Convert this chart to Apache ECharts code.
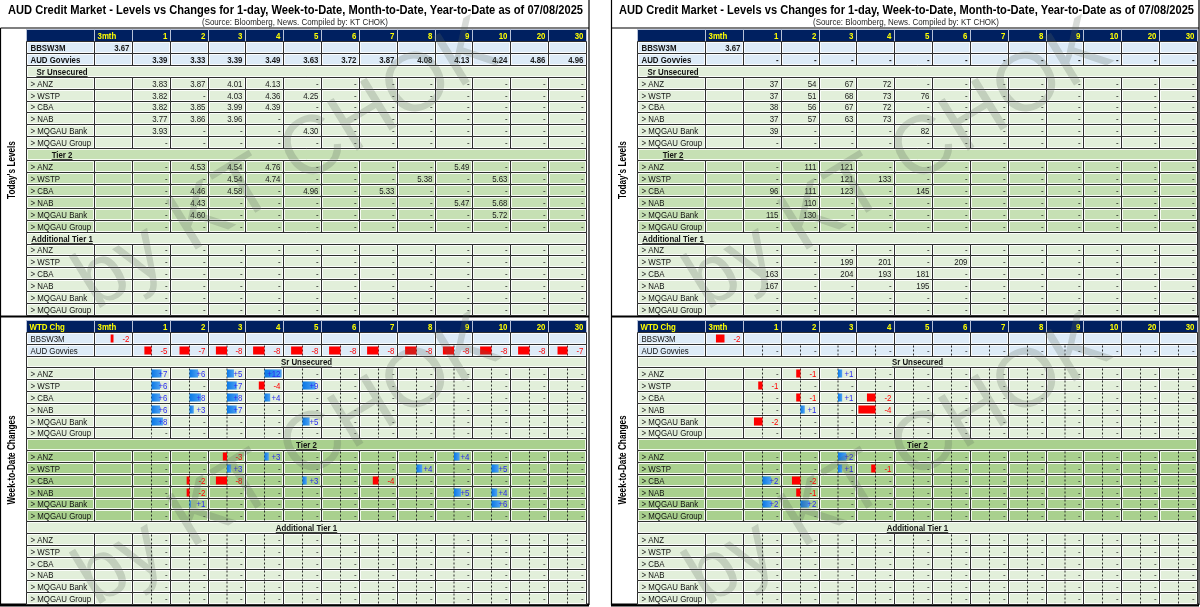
<!DOCTYPE html>
<html><head><meta charset="utf-8">
<script src="https://cdn.jsdelivr.net/npm/echarts@6/dist/echarts.min.js"></script>
<style>html,body{margin:0;padding:0;background:#fff}#c{width:1200px;height:607px}</style>
</head><body><div id="c"></div>
<script>
// ---------------- DATA ----------------
const B = '';    // blank cell
const D = null;  // dash "-"
const columns = ['3mth','1','2','3','4','5','6','7','8','9','10','20','30'];
const rateLabels = ['BBSW3M','AUD Govvies'];
const sections = ['Sr Unsecured','Tier 2','Additional Tier 1'];
const issuers = ['> ANZ','> WSTP','> CBA','> NAB','> MQGAU Bank','> MQGAU Group'];

// Today's levels - yields (%)
const yldRates = [
  [3.67,B,B,B,B,B,B,B,B,B,B,B,B],
  [B,3.39,3.33,3.39,3.49,3.63,3.72,3.87,4.08,4.13,4.24,4.86,4.96]
];
const yldSrUnsecured = [
  [B,3.83,3.87,4.01,4.13,D,D,D,D,D,D,D,D],
  [B,3.82,D,4.03,4.36,4.25,D,D,D,D,D,D,D],
  [B,3.82,3.85,3.99,4.39,D,D,D,D,D,D,D,D],
  [B,3.77,3.86,3.96,D,D,D,D,D,D,D,D,D],
  [B,3.93,D,D,D,4.30,D,D,D,D,D,D,D],
  [B,D,D,D,D,D,D,D,D,D,D,D,D]
];
const yldTier2 = [
  [B,D,4.53,4.54,4.76,D,D,D,D,5.49,D,D,D],
  [B,D,D,4.54,4.74,D,D,D,5.38,D,5.63,D,D],
  [B,D,4.46,4.58,D,4.96,D,5.33,D,D,D,D,D],
  [B,D,4.43,D,D,D,D,D,D,5.47,5.68,D,D],
  [B,D,4.60,D,D,D,D,D,D,D,5.72,D,D],
  [B,D,D,D,D,D,D,D,D,D,D,D,D]
];
const yldAT1 = [
  [B,D,D,D,D,D,D,D,D,D,D,D,D],
  [B,D,D,D,D,D,D,D,D,D,D,D,D],
  [B,D,D,D,D,D,D,D,D,D,D,D,D],
  [B,D,D,D,D,D,D,D,D,D,D,D,D],
  [B,D,D,D,D,D,D,D,D,D,D,D,D],
  [B,D,D,D,D,D,D,D,D,D,D,D,D]
];

// Today's levels - spreads (bp)
const sprRates = [
  [3.67,B,B,B,B,B,B,B,B,B,B,B,B],
  [B,D,D,D,D,D,D,D,D,D,D,D,D]
];
const sprSrUnsecured = [
  [B,37,54,67,72,D,D,D,D,D,D,D,D],
  [B,37,51,68,73,76,D,D,D,D,D,D,D],
  [B,38,56,67,72,D,D,D,D,D,D,D,D],
  [B,37,57,63,73,D,D,D,D,D,D,D,D],
  [B,39,D,D,D,82,D,D,D,D,D,D,D],
  [B,D,D,D,D,D,D,D,D,D,D,D,D]
];
const sprTier2 = [
  [B,D,111,121,D,D,D,D,D,D,D,D,D],
  [B,D,D,121,133,D,D,D,D,D,D,D,D],
  [B,96,111,123,D,145,D,D,D,D,D,D,D],
  [B,D,110,D,D,D,D,D,D,D,D,D,D],
  [B,115,130,D,D,D,D,D,D,D,D,D,D],
  [B,D,D,D,D,D,D,D,D,D,D,D,D]
];
const sprAT1 = [
  [B,D,D,D,D,D,D,D,D,D,D,D,D],
  [B,D,D,199,201,D,209,D,D,D,D,D,D],
  [B,163,D,204,193,181,D,D,D,D,D,D,D],
  [B,167,D,D,D,195,D,D,D,D,D,D,D],
  [B,D,D,D,D,D,D,D,D,D,D,D,D],
  [B,D,D,D,D,D,D,D,D,D,D,D,D]
];

// Week-to-date changes - yields (bp)
const yldChgRates = [
  [-2,B,B,B,B,B,B,B,B,B,B,B,B],
  [B,-5,-7,-8,-8,-8,-8,-8,-8,-8,-8,-8,-7]
];
const yldChgSrUnsecured = [
  [B,7,6,5,12,D,D,D,D,D,D,D,D],
  [B,6,D,7,-4,9,D,D,D,D,D,D,D],
  [B,6,8,8,4,D,D,D,D,D,D,D,D],
  [B,6,3,7,D,D,D,D,D,D,D,D,D],
  [B,8,D,D,D,5,D,D,D,D,D,D,D],
  [B,D,D,D,D,D,D,D,D,D,D,D,D]
];
const yldChgTier2 = [
  [B,D,D,-3,3,D,D,D,D,4,D,D,D],
  [B,D,D,3,D,D,D,D,4,D,5,D,D],
  [B,D,-2,-8,D,3,D,-4,D,D,D,D,D],
  [B,D,-2,D,D,D,D,D,D,5,4,D,D],
  [B,D,1,D,D,D,D,D,D,D,6,D,D],
  [B,D,D,D,D,D,D,D,D,D,D,D,D]
];
const yldChgAT1 = [
  [B,D,D,D,D,D,D,D,D,D,D,D,D],
  [B,D,D,D,D,D,D,D,D,D,D,D,D],
  [B,D,D,D,D,D,D,D,D,D,D,D,D],
  [B,D,D,D,D,D,D,D,D,D,D,D,D],
  [B,D,D,D,D,D,D,D,D,D,D,D,D],
  [B,D,D,D,D,D,D,D,D,D,D,D,D]
];

// Week-to-date changes - spreads (bp)
const sprChgRates = [
  [-2,B,B,B,B,B,B,B,B,B,B,B,B],
  [B,D,D,D,D,D,D,D,D,D,D,D,D]
];
const sprChgSrUnsecured = [
  [B,D,-1,1,D,D,D,D,D,D,D,D,D],
  [B,-1,D,D,D,D,D,D,D,D,D,D,D],
  [B,D,-1,1,-2,D,D,D,D,D,D,D,D],
  [B,D,1,D,-4,D,D,D,D,D,D,D,D],
  [B,-2,D,D,D,D,D,D,D,D,D,D,D],
  [B,D,D,D,D,D,D,D,D,D,D,D,D]
];
const sprChgTier2 = [
  [B,D,D,2,D,D,D,D,D,D,D,D,D],
  [B,D,D,1,-1,D,D,D,D,D,D,D,D],
  [B,2,-2,D,D,D,D,D,D,D,D,D,D],
  [B,D,-1,D,D,D,D,D,D,D,D,D,D],
  [B,2,2,D,D,D,D,D,D,D,D,D,D],
  [B,D,D,D,D,D,D,D,D,D,D,D,D]
];
const sprChgAT1 = [
  [B,D,D,D,D,D,D,D,D,D,D,D,D],
  [B,D,D,D,D,D,D,D,D,D,D,D,D],
  [B,D,D,D,D,D,D,D,D,D,D,D,D],
  [B,D,D,D,D,D,D,D,D,D,D,D,D],
  [B,D,D,D,D,D,D,D,D,D,D,D,D],
  [B,D,D,D,D,D,D,D,D,D,D,D,D]
];

const titleText = 'AUD Credit Market - Levels vs Changes for 1-day, Week-to-Date, Month-to-Date, Year-to-Date as of 07/08/2025';
const sourceText = '(Source: Bloomberg, News. Compiled by: KT CHOK)';
const watermarkText = 'by KT CHOK';

// ---------------- LAYOUT / STYLE ----------------
const FONT = "'Liberation Sans',Arial,sans-serif";
const FS = 9.6;
const SX = 0.82;      // horizontal condense factor (Calibri-like)
const LW = 1.8;       // label column width in column units
const NCOLS = columns.length;
const SEC_TOP = ['#E2EFDA','#C6E0B4','#E2EFDA'];
const SEC_BOT = ['#E2EFDA','#A9D08E','#E2EFDA'];
const RATE_FILL = '#DDEBF7';
const HDR_FILL = '#002060';

const mctx = document.createElement('canvas').getContext('2d');
function tw(text, size, weight) {
  mctx.font = (weight || 'normal') + ' ' + size + 'px ' + FONT;
  return mctx.measureText(text).width;
}

function buildItems(rates, secData, mode) {
  const items = [];
  const colX = j => LW + j;
  items.push({kind:'hdrLabel', x0:0, x1:LW, row:0, text: mode === 'chg' ? 'WTD Chg' : ''});
  columns.forEach((c, j) => items.push({kind:'hdr', x0:colX(j), x1:colX(j)+1, row:0, text:c, col:j}));
  let r = 1;
  rateLabels.forEach((lab, i) => {
    items.push({kind:'label', x0:0, x1:LW, row:r, text:lab, bold: mode === 'level', fill: RATE_FILL});
    rates[i].forEach((v, j) => items.push({kind:'val', x0:colX(j), x1:colX(j)+1, row:r, v:v, col:j, bold: mode === 'level', fill: RATE_FILL}));
    r++;
  });
  sections.forEach((s, k) => {
    const fill = (mode === 'level' ? SEC_TOP : SEC_BOT)[k];
    items.push({kind:'section', x0:0, x1:LW + NCOLS, row:r, text:s, fill:fill});
    r++;
    issuers.forEach((lab, i) => {
      items.push({kind:'label', x0:0, x1:LW, row:r, text:lab, fill:fill});
      secData[k][i].forEach((v, j) => items.push({kind:'val', x0:colX(j), x1:colX(j)+1, row:r, v:v, col:j, fill:fill}));
      r++;
    });
  });
  return items;
}

function fmtLevel(v) { return Number.isInteger(v) ? String(v) : v.toFixed(2); }

function makeRender(items, mode, maxAbs) {
  return function (params, api) {
    const it = items[params.dataIndex];
    const a = api.coord([it.x0, it.row]);
    const b = api.coord([it.x1, it.row + 1]);
    const x = Math.round(a[0]) + 0.5, y = Math.round(a[1]) + 0.5;
    const w = Math.round(b[0]) - Math.round(a[0]);
    const h = Math.round(b[1]) - Math.round(a[1]);
    const cy = y + h / 2;
    const ch = [];
    const isHdr = it.kind === 'hdr' || it.kind === 'hdrLabel';
    ch.push({type:'rect', shape:{x:x, y:y, width:w, height:h},
      style:{fill: isHdr ? HDR_FILL : it.fill, stroke: isHdr ? '#b8c2d8' : '#2e2e2e', lineWidth:1}});
    if (!isHdr) {
      ch.push({type:'rect', shape:{x:x+1, y:y+1, width:w-2, height:h-2},
        style:{fill:'none', stroke:'#ffffff', lineWidth:1, opacity:0.85}});
    }
    const txt = (text, tx, align, color, weight) => ch.push({type:'text', x:tx, y:cy + 0.5, scaleX:SX, style:{
      text:text, x:0, y:0, align:align, verticalAlign:'middle', fill:color,
      fontSize:FS, fontWeight:weight || 'normal', fontFamily:FONT}});
    if (it.kind === 'hdrLabel') {
      if (it.text) txt(it.text, x + 3, 'left', '#FFFF00', 'bold');
    } else if (it.kind === 'hdr') {
      if (it.col === 0) txt(it.text, x + 3, 'left', '#FFFF00', 'bold');
      else txt(it.text, x + w - 3, 'right', '#FFFF00', 'bold');
    } else if (it.kind === 'label') {
      txt(it.text, x + 4, 'left', '#111', it.bold ? 'bold' : 'normal');
    } else if (it.kind === 'section') {
      let cx;
      if (mode === 'level') {
        const c0 = api.coord([0, it.row]), c1 = api.coord([LW, it.row]);
        cx = (c0[0] + c1[0]) / 2 + 2;
      } else {
        cx = x + w / 2;
      }
      txt(it.text, cx, 'center', '#111', 'bold');
      const tW = tw(it.text, FS, 'bold') * SX;
      ch.push({type:'line', shape:{x1:cx - tW/2, y1:cy + 5, x2:cx + tW/2, y2:cy + 5},
        style:{stroke:'#111', lineWidth:0.8}});
    } else if (it.kind === 'val') {
      const v = it.v;
      if (v === B) {
        // blank cell
      } else if (mode === 'level') {
        txt(v === null ? '-' : fmtLevel(v), x + w - 3, 'right', '#1a1a1a', it.bold ? 'bold' : 'normal');
      } else {
        const mid = x + w / 2;
        if (it.col > 0) {
          ch.push({type:'line', shape:{x1:mid, y1:y + 1, x2:mid, y2:y + h - 1},
            style:{stroke:'#1a1a1a', lineWidth:0.9, lineDash:[2, 2]}});
        }
        if (v === null) {
          txt('-', x + w - 3, 'right', '#333');
        } else {
          const len = Math.max(1.5, Math.abs(v) / maxAbs * (w / 2) * 0.9);
          if (v < 0) {
            ch.push({type:'rect', shape:{x:mid - len, y:y + 2, width:len, height:h - 4},
              style:{fill:'#FF0000'}});
            txt(String(v), x + w - 3, 'right', '#FF0000');
          } else {
            ch.push({type:'rect', shape:{x:mid, y:y + 2, width:len, height:h - 4},
              style:{fill:new echarts.graphic.LinearGradient(0, 0, 1, 0, [
                {offset:0, color:'#0A78E6'}, {offset:1, color:'#4EA2F2'}])}});
            txt('+' + v, x + w - 3, 'right', '#2B2BF0');
          }
        }
      }
    }
    return {type:'group', children:ch};
  };
}

const panels = [
  {rates:yldRates, sec:[yldSrUnsecured, yldTier2, yldAT1], mode:'level', left:26, top:29, height:286},
  {rates:sprRates, sec:[sprSrUnsecured, sprTier2, sprAT1], mode:'level', left:637, top:29, height:286},
  {rates:yldChgRates, sec:[yldChgSrUnsecured, yldChgTier2, yldChgAT1], mode:'chg', left:26, top:320, height:284},
  {rates:sprChgRates, sec:[sprChgSrUnsecured, sprChgTier2, sprChgAT1], mode:'chg', left:637, top:320, height:284}
];

const grids = [], xAxes = [], yAxes = [], series = [];
panels.forEach((p, gi) => {
  grids.push({left:p.left, top:p.top, width:560, height:p.height});
  xAxes.push({type:'value', gridIndex:gi, min:0, max:LW + NCOLS, show:false});
  yAxes.push({type:'value', gridIndex:gi, min:0, max:24, inverse:true, show:false});
  const items = buildItems(p.rates, p.sec, p.mode);
  let maxAbs = 1;
  items.forEach(it => { if (it.kind === 'val' && typeof it.v === 'number') maxAbs = Math.max(maxAbs, Math.abs(it.v)); });
  series.push({
    type:'custom', xAxisIndex:gi, yAxisIndex:gi, clip:false, silent:true,
    renderItem: makeRender(items, p.mode, maxAbs),
    encode:{x:[0,1], y:[2,3]},
    data: items.map(it => [it.x0, it.x1, it.row, it.row + 1])
  });
});

// decorations
const graphic = [];
const TS = 12.2, SS = 8.6;
const titleSX = 575 / tw(titleText, TS, 'bold');
const srcSX = 186 / tw(sourceText, SS, 'normal');
const sideText = (px, cy, text) => ({type:'text', x:px + 12, y:cy, rotation:Math.PI/2, scaleX:SX,
  style:{text:text, x:0, y:0, fontSize:10, fontWeight:'bold', fontFamily:FONT, fill:'#000', align:'center', verticalAlign:'middle'}});
[0, 611].forEach(px => {
  graphic.push({type:'text', x:px + 8, y:11, scaleX:titleSX, style:{text:titleText, x:0, y:0, fontSize:TS, fontWeight:'bold', fontFamily:FONT, fill:'#000', verticalAlign:'middle'}});
  graphic.push({type:'text', x:px + 202, y:23, scaleX:srcSX, style:{text:sourceText, x:0, y:0, fontSize:SS, fontFamily:FONT, fill:'#222', verticalAlign:'middle'}});
  graphic.push(sideText(px, 170, "Today's Levels"));
  graphic.push(sideText(px, 460, 'Week-to-Date Changes'));
  const right = px === 0 ? 589 : 1199;
  const lineStyle = {stroke:'#000', lineWidth:1.2};
  graphic.push({type:'line', shape:{x1:px + 0.5, y1:28, x2:right, y2:28}, style:lineStyle});
  graphic.push({type:'line', shape:{x1:px + 0.5, y1:px === 0 ? 28 : 0, x2:px + 0.5, y2:605}, style:lineStyle});
  graphic.push({type:'line', shape:{x1:right, y1:0, x2:right, y2:605}, style:lineStyle});
  graphic.push({type:'line', shape:{x1:px, y1:316.5, x2:right, y2:316.5}, style:{stroke:'#000', lineWidth:2}});
  graphic.push({type:'line', shape:{x1:px, y1:605, x2:right, y2:605}, style:{stroke:'#000', lineWidth:3}});
  [166, 462].forEach(cy => {
    graphic.push({type:'text', x:px + 288, y:cy, rotation:0.55, z:100,
      style:{text:watermarkText, x:0, y:0, fontSize:83, fontFamily:FONT, fill:'rgba(90,105,90,0.24)', align:'center', verticalAlign:'middle'}});
  });
});

const chart = echarts.init(document.getElementById('c'), null, {renderer:'canvas'});
chart.setOption({animation:false, grid:grids, xAxis:xAxes, yAxis:yAxes, series:series, graphic:graphic});
</script>
</body></html>
